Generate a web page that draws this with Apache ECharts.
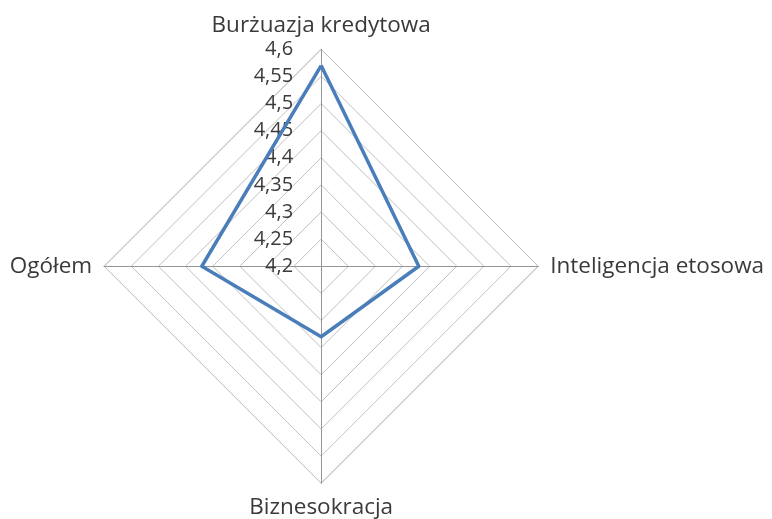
<!DOCTYPE html>
<html>
<head>
<meta charset="utf-8">
<script src="https://cdn.jsdelivr.net/npm/echarts@6/dist/echarts.min.js"></script>
<style>
html, body { margin: 0; padding: 0; background: #fff; }
#chart { width: 772px; height: 519px; }
</style>
</head>
<body>
<div id="chart"></div>
<script>
// kategorie (kolejnosc przeciwna do ruchu wskazowek zegara, od gory)
var categories = ['Burżuazja kredytowa', 'Ogółem', 'Biznesokracja', 'Inteligencja etosowa'];
var values = [4.57, 4.42, 4.33, 4.38];
var axisMin = 4.2;
var axisMax = 4.6;
var axisStep = 0.05;

var chart = echarts.init(document.getElementById('chart'));

var fontName = 'Open Sans';
var center = ['41.6%', '51.3%'];
var radius = 217;
var splits = Math.round((axisMax - axisMin) / axisStep);

var option = {
	animation : false,
	radar : [ {
		center : center,
		radius : radius,
		startAngle : 90,
		shape : 'polygon',
		splitNumber : splits,
		indicator : categories.map(function(c) {
			return { name : c, min : axisMin, max : axisMax };
		}),
		nameGap : 12,
		axisName : {
			color : '#3a3a3a',
			fontFamily : fontName,
			fontSize : 22.5,
			formatter : function(name) {
				// dolny opis troche nizej
				return name === categories[2] ? '{bottom|' + name + '}' : name;
			},
			rich : {
				bottom : {
					color : '#3a3a3a',
					fontFamily : fontName,
					fontSize : 22.5,
					padding : [ 1, 0, 0, 0 ]
				}
			}
		},
		splitArea : { show : false },
		splitLine : { lineStyle : { color : '#c0c0c0', width : 1 } },
		axisLine : { lineStyle : { color : '#969696', width : 1 } },
		axisTick : { show : false }
	}, {
		// druga siatka tylko po to, by opisac os pionowa
		center : center,
		radius : radius,
		startAngle : 90,
		shape : 'polygon',
		splitNumber : splits,
		indicator : [ { name : '', min : axisMin, max : axisMax } ],
		splitArea : { show : false },
		splitLine : { show : false },
		axisLine : { show : false },
		axisTick : { show : false },
		axisLabel : {
			show : true,
			showMinLabel : true,
			showMaxLabel : true,
			margin : 28,
			color : '#3a3a3a',
			fontFamily : fontName,
			fontSize : 20,
			formatter : function(v) {
				return String(+v.toFixed(2)).replace('.', ',');
			}
		}
	} ],
	series : [ {
		type : 'radar',
		radarIndex : 0,
		symbol : 'none',
		lineStyle : { color : '#4a7ebb', width : 3.5 },
		data : [ { value : values } ]
	} ]
};
chart.setOption(option);
</script>
</body>
</html>
